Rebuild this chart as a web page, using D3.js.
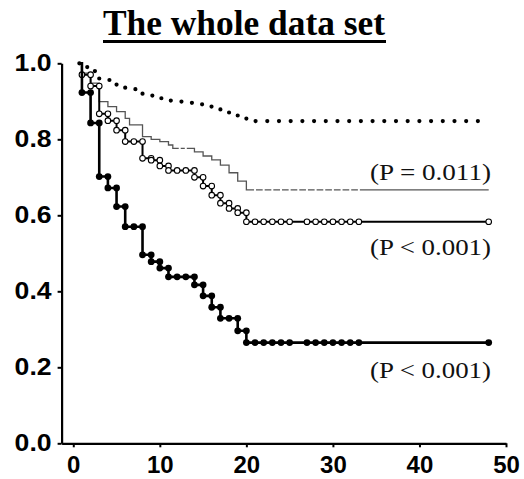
<!DOCTYPE html>
<html>
<head>
<meta charset="utf-8">
<script src="https://cdn.jsdelivr.net/npm/d3@7/dist/d3.min.js"></script>
<style>
  html, body { margin: 0; padding: 0; background: #fff; }
  svg { display: block; }
</style>
</head>
<body>
<svg id="chart" width="524" height="479"></svg>
<script>
// Kaplan–Meier style survival curves, months on x, cumulative survival on y.

// Best group: dotted line
const dottedTimes = [0.7, 1.5, 2.5, 3, 5, 6, 8, 10, 11, 12.5, 14, 15, 16, 17, 18, 19, 20];
const dottedSurv  = [1.0, 0.99, 0.978, 0.956, 0.94, 0.932, 0.915, 0.908, 0.902, 0.896, 0.892, 0.886, 0.879, 0.873, 0.867, 0.86, 0.848];

// Thin grey line
const thinTimes = [0.7, 1, 2, 3, 4, 5, 6, 6.5, 8, 9, 10, 11, 11.5, 14, 15, 16, 17, 18, 19, 20];
const thinSurv  = [1.0, 0.974, 0.948, 0.899, 0.886, 0.873, 0.855, 0.838, 0.807, 0.80, 0.794, 0.785, 0.776, 0.767, 0.756, 0.746, 0.732, 0.712, 0.69, 0.667];
const thinCensored = [12.3, 13, 21, 22, 23, 24, 25, 26, 27, 28, 29, 30, 31, 32, 33];

// Open-circle line
const openTimes = [0.7, 1, 2, 3, 4, 5, 6, 8, 9, 10, 11, 14, 15, 16, 17, 18, 19, 20];
const openSurv  = [1.0, 0.97, 0.94, 0.867, 0.849, 0.824, 0.794, 0.75, 0.745, 0.73, 0.718, 0.70, 0.677, 0.653, 0.632, 0.618, 0.607, 0.583];
const openCensored = [7, 12, 13, 21, 22, 23, 24, 25, 27, 28, 29, 30, 31, 32, 33, 48];

// Filled-dot line
const filledTimes = [0.7, 1, 2, 3, 4, 5, 6, 8, 9, 10, 11, 14, 15, 16, 17, 19, 20];
const filledSurv  = [1.0, 0.923, 0.843, 0.702, 0.672, 0.623, 0.57, 0.496, 0.478, 0.461, 0.438, 0.417, 0.388, 0.358, 0.329, 0.296, 0.265];
const filledCensored = [7, 12, 13, 18, 21, 22, 23, 24, 25, 27, 28, 29, 30, 31, 32, 33, 48];

const endTime = 48;

const xTicks = [0, 10, 20, 30, 40, 50];
const yTicks = [0.0, 0.2, 0.4, 0.6, 0.8, 1.0];

const pLabels = ["(P = 0.011)", "(P < 0.001)", "(P < 0.001)"];
const titleText = "The whole data set";

const svg = d3.select("#chart");

const x = d3.scaleLinear().domain([-1.35, 50]).range([61.6, 506]);
const y = d3.scaleLinear().domain([0, 1]).range([443.3, 63.3]);

// step path through (time, survival) pairs, extended flat to the last follow-up
function stepPoints(times, surv) {
  const pts = times.map((t, i) => [t, surv[i]]);
  pts.push([endTime, surv[surv.length - 1]]);
  return pts;
}
const stepLine = d3.line().x(d => x(d[0])).y(d => y(d[1])).curve(d3.curveStepAfter);

function survAt(times, surv, t) {
  let s = surv[0];
  for (let i = 0; i < times.length; i++) if (times[i] <= t) s = surv[i];
  return s;
}

// symbol positions: both ends of each horizontal run plus censored times
function symbolPoints(times, surv, censored) {
  const pts = [];
  for (let i = 1; i < times.length; i++) {
    pts.push([times[i], surv[i]]);
    if (i + 1 < times.length) pts.push([times[i + 1], surv[i]]);
  }
  censored.forEach(c => pts.push([c, survAt(times, surv, c)]));
  return pts;
}

// Title
svg.append("text")
  .attr("x", 244).attr("y", 35)
  .attr("text-anchor", "middle")
  .attr("font-family", "Liberation Serif, Times New Roman, serif")
  .attr("font-weight", "bold")
  .attr("font-size", 35)
  .attr("textLength", 282).attr("lengthAdjust", "spacingAndGlyphs")
  .text(titleText);
svg.append("line")
  .attr("x1", 103).attr("x2", 386)
  .attr("y1", 41.5).attr("y2", 41.5)
  .attr("stroke", "#000").attr("stroke-width", 3);

// Axes
const yAxis = d3.axisLeft(y).tickValues(yTicks).tickFormat(d3.format(".1f"))
  .tickSize(4).tickSizeOuter(0).tickPadding(6);
const gy = svg.append("g").attr("transform", "translate(61.6,0)").call(yAxis);

const xAxis = d3.axisBottom(x).tickValues(xTicks).tickFormat(d3.format("d"))
  .tickSize(4).tickSizeOuter(0).tickPadding(9);
const gx = svg.append("g").attr("transform", "translate(0,443.3)").call(xAxis);

[gx, gy].forEach(g => {
  g.select(".domain").attr("stroke", "#000").attr("stroke-width", 2.2);
  g.selectAll(".tick line").attr("stroke", "#000").attr("stroke-width", 2);
  g.selectAll(".tick text")
    .attr("fill", "#000")
    .attr("font-family", "Liberation Sans, Arial, sans-serif")
    .attr("font-weight", "bold")
    .attr("font-size", 24);
});
// the y labels are a little wider than the font's natural width
gy.selectAll(".tick text").attr("textLength", 37).attr("lengthAdjust", "spacingAndGlyphs");

// Dotted curve
svg.append("path")
  .attr("d", stepLine(stepPoints(dottedTimes, dottedSurv)))
  .attr("fill", "none").attr("stroke", "#000")
  .attr("stroke-width", 4.2).attr("stroke-linecap", "round")
  .attr("stroke-dasharray", "0 11.7");

// Thin grey curve with small breaks at censored times
svg.append("path")
  .attr("d", stepLine(stepPoints(thinTimes, thinSurv)))
  .attr("fill", "none").attr("stroke", "#555").attr("stroke-width", 1.3);
svg.selectAll(".gap").data(thinCensored).join("line")
  .attr("x1", d => x(d) - 1).attr("x2", d => x(d) + 1)
  .attr("y1", d => y(survAt(thinTimes, thinSurv, d)))
  .attr("y2", d => y(survAt(thinTimes, thinSurv, d)))
  .attr("stroke", "#fff").attr("stroke-width", 3);

// Open-circle curve
svg.append("path")
  .attr("d", stepLine(stepPoints(openTimes, openSurv)))
  .attr("fill", "none").attr("stroke", "#000").attr("stroke-width", 2);
svg.selectAll(".open").data(symbolPoints(openTimes, openSurv, openCensored)).join("circle")
  .attr("cx", d => x(d[0])).attr("cy", d => y(d[1])).attr("r", 2.8)
  .attr("fill", "#fff").attr("stroke", "#000").attr("stroke-width", 1.1);

// Filled-dot curve
svg.append("path")
  .attr("d", stepLine(stepPoints(filledTimes, filledSurv)))
  .attr("fill", "none").attr("stroke", "#000").attr("stroke-width", 2.6);
svg.selectAll(".filled").data(symbolPoints(filledTimes, filledSurv, filledCensored)).join("circle")
  .attr("cx", d => x(d[0])).attr("cy", d => y(d[1])).attr("r", 3.4)
  .attr("fill", "#000");

// P-value labels
const labelY = [180, 255, 378];
svg.selectAll(".plab").data(pLabels).join("text")
  .attr("x", 491).attr("y", (d, i) => labelY[i])
  .attr("text-anchor", "end")
  .attr("font-family", "Liberation Serif, Times New Roman, serif")
  .attr("font-size", 24)
  .attr("textLength", 121).attr("lengthAdjust", "spacingAndGlyphs")
  .attr("fill", "#111")
  .text(d => d);
</script>
</body>
</html>
